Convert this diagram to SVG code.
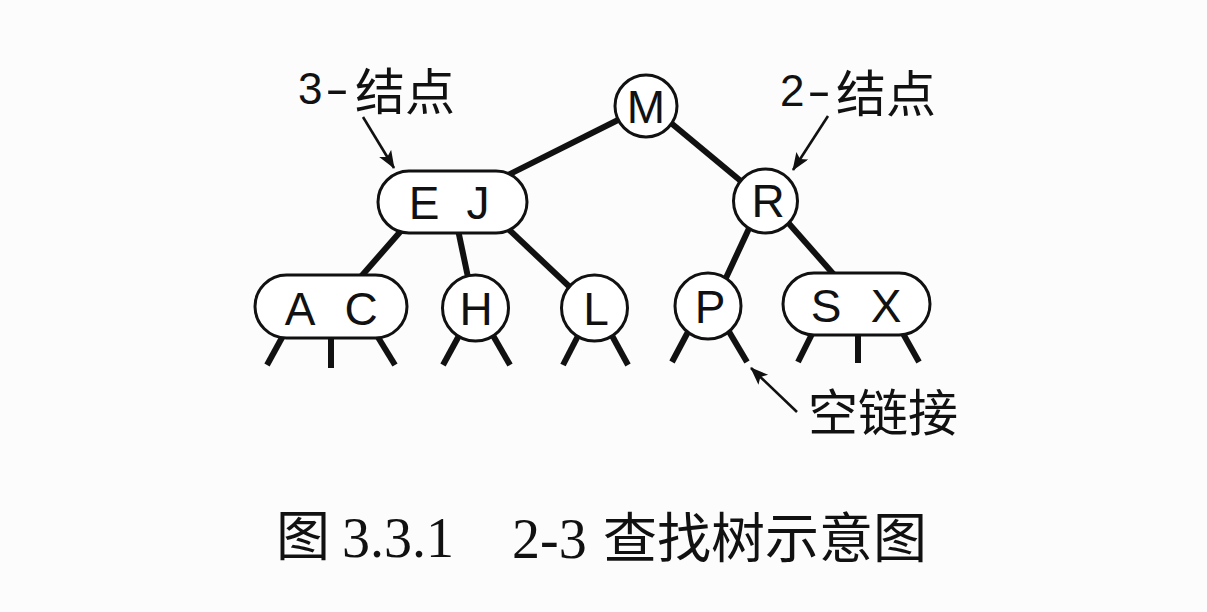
<svg xmlns="http://www.w3.org/2000/svg" width="1207" height="612" viewBox="0 0 1207 612">
<defs>
<style>
.node{fill:#fff;stroke:#111;stroke-width:3}
.edge{stroke:#111;stroke-width:6;stroke-linecap:butt;fill:none}
.ptr{stroke:#111;stroke-width:2.6;fill:none}
.lbl{font-family:"Liberation Sans","Noto Sans",sans-serif;font-size:46px;fill:#111;text-anchor:middle}
.note{font-family:"Liberation Sans","Noto Sans CJK SC",sans-serif;font-size:44px;fill:#111}
.cjk{font-family:"Noto Sans CJK SC",sans-serif;font-size:50px;fill:#111}
.cap{font-family:"Liberation Serif","Noto Sans CJK SC",serif;font-size:56px;fill:#111}
.capc{font-family:"Noto Sans CJK SC",serif;font-size:54px;fill:#111}
</style>
<marker id="ah" markerUnits="userSpaceOnUse" markerWidth="20" markerHeight="16" refX="17" refY="7" orient="auto">
<path d="M0,0 L18,7 L0,14 L4,7 Z" fill="#111"/>
</marker>
</defs>
<rect width="1207" height="612" fill="#fcfcfc"/>
<g id="connectors">
<line class="edge" x1="630" y1="114" x2="500" y2="179"/>
<line class="edge" x1="665" y1="118" x2="748" y2="187"/>
<line class="edge" x1="407" y1="224" x2="358" y2="280"/>
<line class="edge" x1="457" y1="225" x2="469" y2="282"/>
<line class="edge" x1="503" y1="224" x2="574" y2="291"/>
<line class="edge" x1="752" y1="222" x2="725" y2="280"/>
<line class="edge" x1="784" y1="218" x2="836" y2="277"/>
<line class="edge" x1="284" y1="334" x2="267" y2="365"/>
<line class="edge" x1="331" y1="334" x2="331" y2="368"/>
<line class="edge" x1="376" y1="334" x2="395" y2="365"/>
<line class="edge" x1="461" y1="332" x2="443" y2="365"/>
<line class="edge" x1="491" y1="332" x2="510" y2="365"/>
<line class="edge" x1="580" y1="332" x2="563" y2="365"/>
<line class="edge" x1="610" y1="332" x2="628" y2="365"/>
<line class="edge" x1="689" y1="330" x2="672" y2="362"/>
<line class="edge" x1="728" y1="330" x2="747" y2="362"/>
<line class="edge" x1="814" y1="330" x2="798" y2="362"/>
<line class="edge" x1="858" y1="330" x2="858" y2="363"/>
<line class="edge" x1="901" y1="330" x2="919" y2="362"/>
<line class="ptr" x1="363" y1="117" x2="394" y2="168" marker-end="url(#ah)"/>
<line class="ptr" x1="828" y1="116" x2="793" y2="170" marker-end="url(#ah)"/>
<line class="ptr" x1="797" y1="412" x2="751" y2="368" marker-end="url(#ah)"/>
</g>
<g id="node-M"><circle class="node" cx="646" cy="106" r="31"/><text class="lbl" x="646" y="123">M</text></g>
<g id="node-EJ"><rect class="node" x="378" y="171" width="149" height="62" rx="31"/><text class="lbl" x="424" y="219">E</text><text class="lbl" x="478" y="219">J</text></g>
<g id="node-R"><circle class="node" cx="765.5" cy="201" r="32"/><text class="lbl" x="768" y="217">R</text></g>
<g id="node-AC"><rect class="node" x="255" y="275" width="152" height="63" rx="31.5"/><text class="lbl" x="300" y="325">A</text><text class="lbl" x="361" y="325">C</text></g>
<g id="node-H"><circle class="node" cx="475.5" cy="308" r="33"/><text class="lbl" x="476" y="325">H</text></g>
<g id="node-L"><circle class="node" cx="594.5" cy="308" r="33"/><text class="lbl" x="596" y="325">L</text></g>
<g id="node-P"><circle class="node" cx="708" cy="306" r="33"/><text class="lbl" x="710" y="323">P</text></g>
<g id="node-SX"><rect class="node" x="783" y="273" width="147" height="62" rx="31"/><text class="lbl" x="826" y="322">S</text><text class="lbl" x="886" y="322">X</text></g>
<g id="label-3node"><text class="note" x="298" y="104">3</text><text class="note" x="325" y="104" textLength="24" lengthAdjust="spacingAndGlyphs">-</text><text class="cjk" x="355" y="110">结点</text></g>
<g id="label-2node"><text class="note" x="780" y="106">2</text><text class="note" x="807" y="106" textLength="24" lengthAdjust="spacingAndGlyphs">-</text><text class="cjk" x="836" y="112">结点</text></g>
<g id="label-null"><text class="cjk" x="808" y="431" font-size="48">空链接</text></g>
<g id="caption"><text class="capc" x="276" y="556" font-size="48">图</text><text class="cap" x="342" y="557">3.3.1</text><text class="cap" x="512" y="558">2-3</text><text class="capc" x="603" y="558">查找树示意图</text></g>
</svg>
